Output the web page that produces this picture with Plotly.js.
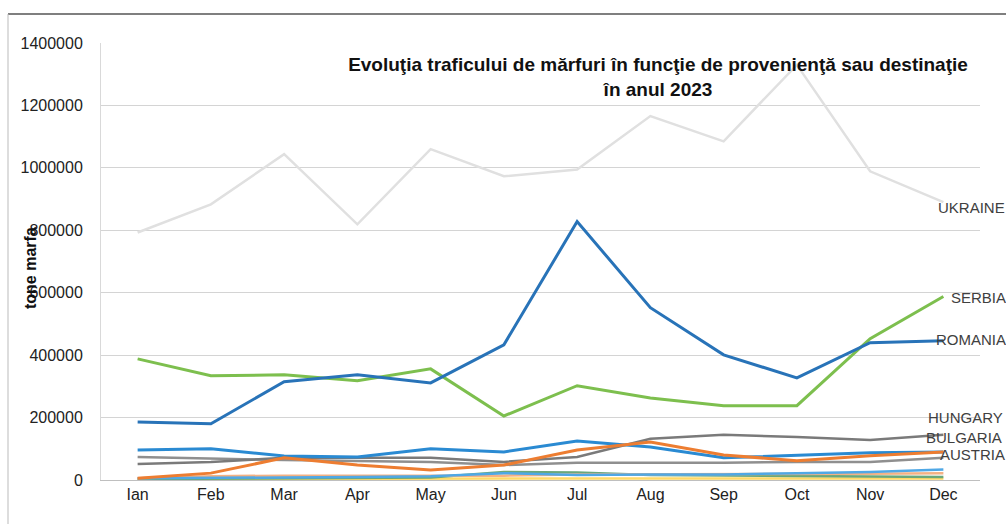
<!DOCTYPE html>
<html>
<head>
<meta charset="utf-8">
<script src="https://cdn.plot.ly/plotly-3.0.1.min.js"></script>
<style>
html,body{margin:0;padding:0;background:#fff;}
#chart{width:1006px;height:524px;}
</style>
</head>
<body>
<div id="chart"></div>
<script>
var months = ['Ian','Feb','Mar','Apr','May','Jun','Jul','Aug','Sep','Oct','Nov','Dec'];

var ukraine  = [793000, 883000, 1044000, 819000, 1060000, 973000, 995000, 1166000, 1085000, 1330000, 989000, 890000];
var romania  = [186000, 180000, 315000, 337000, 311000, 433000, 828000, 552000, 401000, 327000, 440000, 446000];
var serbia   = [388000, 334000, 337000, 318000, 356000, 205000, 302000, 263000, 238000, 238000, 453000, 588000];
var hungary  = [51000, 58000, 71000, 71000, 71000, 58000, 74000, 132000, 145000, 138000, 128000, 145000];
var bulgaria = [6000, 22000, 71000, 48000, 32000, 48000, 96000, 122000, 80000, 62000, 78000, 90000];
var austria  = [96000, 100000, 77000, 74000, 100000, 90000, 125000, 106000, 71000, 80000, 87000, 90000];
var otherGray   = [74000, 68000, 64000, 61000, 58000, 48000, 55000, 55000, 55000, 58000, 58000, 71000];
var otherBlue   = [6000, 6000, 8000, 10000, 12000, 22000, 16000, 18000, 18000, 22000, 26000, 34000];
var otherOrange = [6000, 12000, 14000, 14000, 12000, 14000, 18000, 18000, 20000, 20000, 20000, 22000];
var otherGreen  = [3000, 4000, 5000, 6000, 8000, 26000, 24000, 16000, 14000, 12000, 10000, 10000];
var otherYellow = [2000, 3000, 3000, 4000, 4000, 5000, 5000, 5000, 5000, 5000, 5000, 5000];

var labelNames = ['UKRAINE', 'SERBIA', 'ROMANIA', 'HUNGARY', 'BULGARIA', 'AUSTRIA'];

function line(name, y, color, width, dash) {
  return {x: months, y: y, name: name, type: 'scatter', mode: 'lines',
          line: {color: color, width: width, dash: dash || 'solid'}, hoverinfo: 'name+y'};
}

var traces = [
  line('other5', otherYellow, '#ffd966', 2.5),
  line('other4', otherGreen, '#6aa87a', 2.5),
  line('other3', otherOrange, '#f4b183', 2.5),
  line('other2', otherBlue, '#4fa8e6', 2.5),
  line('other1', otherGray, '#8f8f8f', 2.5),
  line('UKRAINE', ukraine, '#e0e0e0', 2.5),
  line('HUNGARY', hungary, '#7a7a7a', 2.5),
  line('AUSTRIA', austria, '#2a8ad2', 3),
  line('BULGARIA', bulgaria, '#ed7d31', 3),
  line('SERBIA', serbia, '#7dbf4e', 3),
  line('ROMANIA', romania, '#2873b8', 3)
];

var labelSeries = [ukraine, serbia, romania, hungary, bulgaria, austria];
var labelXShift = [-6, 7, -8, -16, -18, -4];
var labelYShift = [-5, -1, 1, 17, 14, -3];
var annotations = labelNames.map(function(n, i) {
  var s = labelSeries[i];
  return {x: months[months.length - 1], y: s[s.length - 1], xref: 'x', yref: 'y',
          text: n, showarrow: false, xanchor: 'left', yanchor: 'middle',
          xshift: labelXShift[i], yshift: labelYShift[i], borderpad: 0,
          font: {family: 'Liberation Sans, Arial, sans-serif', size: 15, color: '#404040'}};
});

annotations.push({
  xref: 'paper', yref: 'paper', x: -71 / 879, y: (480 - 268) / 437,
  text: '<b>tone marfa</b>', textangle: -90, showarrow: false,
  xanchor: 'center', yanchor: 'middle',
  font: {family: 'Liberation Sans, Arial, sans-serif', size: 16, color: '#111'}
});

var layout = {
  width: 1006, height: 524,
  margin: {l: 101, r: 26, t: 43, b: 44, pad: 0},
  paper_bgcolor: '#ffffff', plot_bgcolor: '#ffffff',
  showlegend: false,
  title: {
    text: '<b>Evoluţia traficului de mărfuri în funcţie de provenienţă sau destinaţie<br>în anul 2023</b>',
    xref: 'container', yref: 'container', x: 658 / 1006, y: 1 - 71 / 524,
    xanchor: 'center', yanchor: 'middle',
    font: {family: 'Liberation Sans, Arial, sans-serif', size: 19, color: '#111'}
  },
  xaxis: {
    type: 'category', range: [-0.5, 11.5], showgrid: false,
    showline: true, linecolor: '#bfbfbf', linewidth: 1, ticks: '',
    tickfont: {family: 'Liberation Sans, Arial, sans-serif', size: 16, color: '#222'},
    fixedrange: true
  },
  yaxis: {
    range: [0, 1400000], dtick: 200000, tickformat: 'd',
    showgrid: true, gridcolor: '#d4d4d4', gridwidth: 1, zeroline: false,
    showline: true, linecolor: '#d9d9d9', linewidth: 1,
    ticks: '', ticklabelstandoff: 14,
    tickfont: {family: 'Liberation Sans, Arial, sans-serif', size: 16, color: '#222'},
    fixedrange: true
  },
  shapes: [
    {type: 'line', xref: 'paper', yref: 'paper', x0: -93 / 879, x1: 1.05, y0: (480 - 14) / 437, y1: (480 - 14) / 437,
     line: {color: '#555', width: 1.5}},
    {type: 'line', xref: 'paper', yref: 'paper', x0: -93 / 879, x1: -93 / 879, y0: (480 - 14) / 437, y1: -0.2,
     line: {color: '#bbb', width: 1}}
  ],
  annotations: annotations
};

Plotly.newPlot('chart', traces, layout, {displayModeBar: false, staticPlot: true});
</script>
</body>
</html>
